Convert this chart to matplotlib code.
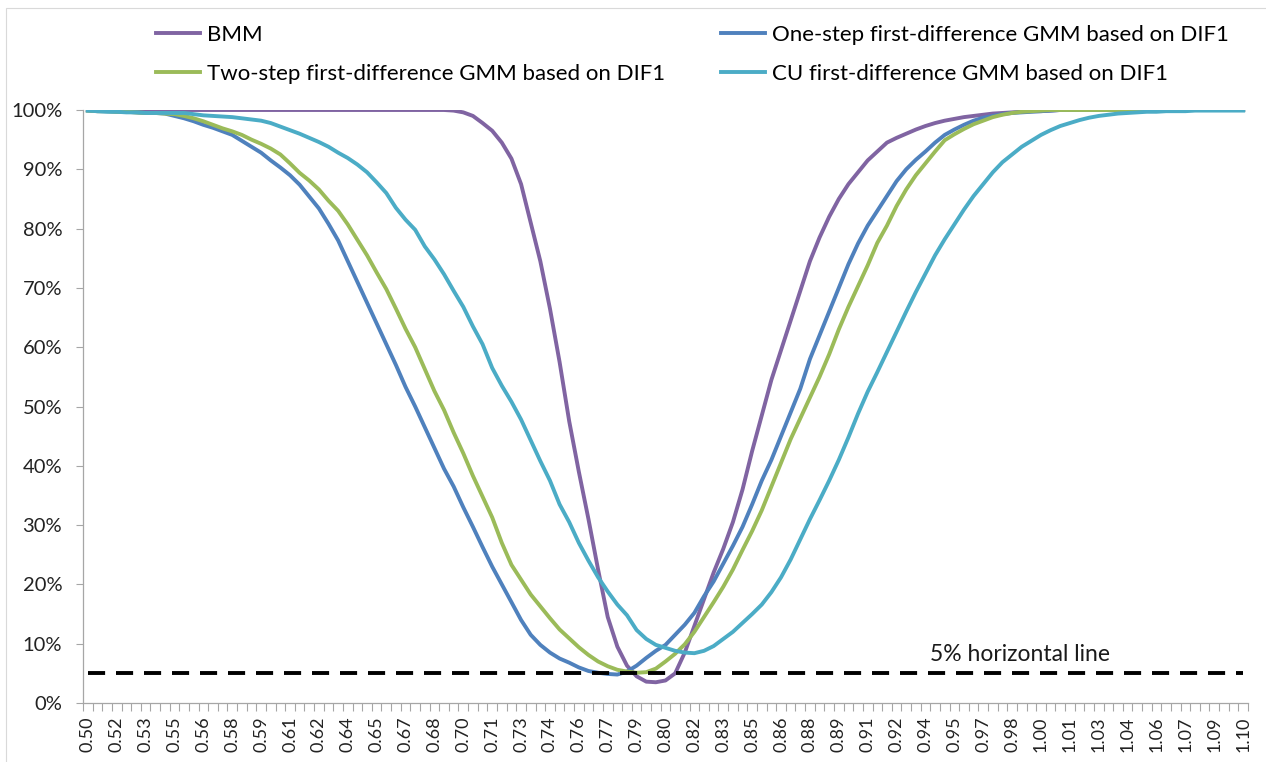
import matplotlib.pyplot as plt
from matplotlib.patches import Rectangle
from matplotlib.ticker import FixedLocator, PercentFormatter
import numpy as np

# rejection frequencies (%) at rho = 0.500, 0.505, ..., 1.100
rho = [round(0.5 + 0.005 * k, 3) for k in range(121)]

tick_labels = ["0.50", "0.52", "0.53", "0.55", "0.56", "0.58", "0.59", "0.61", "0.62",
               "0.64", "0.65", "0.67", "0.68", "0.70", "0.71", "0.73", "0.74", "0.76",
               "0.77", "0.79", "0.80", "0.82", "0.83", "0.85", "0.86", "0.88", "0.89",
               "0.91", "0.92", "0.94", "0.95", "0.97", "0.98", "1.00", "1.01", "1.03",
               "1.04", "1.06", "1.07", "1.09", "1.10"]

bmm = [100.0] * 38 + [
    99.9, 99.6, 99.0, 97.8, 96.5, 94.5, 91.8, 87.5, 81.0, 74.5,
    66.5, 57.5, 47.5, 39.0, 31.0, 22.5, 14.5, 9.5, 6.3, 4.5,
    3.6, 3.5, 3.8, 5.0, 8.5, 13.0, 17.5, 22.0, 26.0, 30.5,
    36.0, 42.5, 48.5, 54.5, 59.5, 64.5, 69.5, 74.5, 78.5, 82.0,
    85.0, 87.5, 89.5, 91.5, 93.0, 94.5, 95.3, 96.0, 96.7, 97.3,
    97.8, 98.2, 98.5, 98.8, 99.0, 99.2, 99.4, 99.5, 99.6, 99.7,
    99.8, 99.8, 99.9] + [100.0] * 20

one_step = [
    99.9, 99.8, 99.8, 99.7, 99.7, 99.6, 99.5, 99.5, 99.4, 99.0,
    98.6, 98.1, 97.5, 97.0, 96.4, 95.8, 94.8, 93.8, 92.8, 91.5,
    90.3, 89.0, 87.4, 85.4, 83.4, 80.8, 78.0, 74.5, 71.0, 67.5,
    64.0, 60.5, 57.0, 53.3, 50.0, 46.5, 43.0, 39.5, 36.5, 33.0,
    29.7, 26.3, 23.0, 20.0, 17.0, 14.0, 11.5, 9.8, 8.5, 7.5,
    6.8, 6.0, 5.4, 5.1, 4.9, 4.8, 5.3, 6.3, 7.6, 8.8,
    9.8, 11.5, 13.2, 15.2, 18.0, 20.5, 23.5, 26.5, 29.7, 33.5,
    37.5, 41.0, 45.0, 49.0, 53.0, 58.0, 62.0, 66.0, 70.0, 74.0,
    77.5, 80.5, 83.0, 85.5, 88.0, 90.0, 91.6, 93.0, 94.5, 95.8,
    96.7, 97.5, 98.2, 98.7, 99.0, 99.3, 99.5, 99.6, 99.7, 99.8,
    99.9] + [100.0] * 20

two_step = [
    99.9, 99.8, 99.8, 99.7, 99.7, 99.6, 99.5, 99.5, 99.4, 99.3,
    99.0, 98.6, 98.1, 97.5, 96.9, 96.4, 95.8, 95.0, 94.3, 93.5,
    92.5, 91.0, 89.4, 88.1, 86.6, 84.7, 83.0, 80.7, 78.1, 75.5,
    72.6, 69.8, 66.5, 63.1, 60.0, 56.3, 52.6, 49.4, 45.6, 42.1,
    38.3, 34.8, 31.3, 27.0, 23.3, 20.8, 18.3, 16.3, 14.3, 12.4,
    10.9, 9.4, 8.1, 7.0, 6.2, 5.6, 5.3, 5.1, 5.2, 5.8,
    7.0, 8.3, 9.9, 12.0, 14.5, 17.0, 19.6, 22.5, 25.8, 29.0,
    32.5, 36.5, 40.5, 44.5, 48.0, 51.5, 55.0, 58.8, 63.0, 66.8,
    70.3, 73.8, 77.6, 80.5, 83.8, 86.6, 89.0, 91.0, 93.0, 94.9,
    95.9, 96.8, 97.6, 98.2, 98.8, 99.2, 99.5, 99.7, 99.8, 99.9] + [100.0] * 21

cu = [
    99.9, 99.8, 99.7, 99.7, 99.6, 99.6, 99.5, 99.5, 99.5, 99.5,
    99.5, 99.3, 99.1, 99.0, 98.9, 98.8, 98.6, 98.4, 98.2, 97.8,
    97.2, 96.6, 96.0, 95.3, 94.6, 93.8, 92.8, 91.9, 90.8, 89.5,
    87.8, 86.0, 83.5, 81.5, 79.8, 77.0, 74.8, 72.3, 69.5, 66.8,
    63.5, 60.5, 56.5, 53.5, 50.8, 47.8, 44.3, 40.8, 37.5, 33.5,
    30.5, 27.0, 24.0, 21.2, 18.8, 16.6, 14.8, 12.3, 10.8, 9.8,
    9.3, 8.8, 8.5, 8.4, 8.8, 9.6, 10.8, 12.0, 13.5, 15.0,
    16.6, 18.7, 21.2, 24.2, 27.6, 31.0, 34.2, 37.5, 41.0, 44.8,
    48.8, 52.5, 55.8, 59.2, 62.6, 66.0, 69.3, 72.4, 75.5, 78.2,
    80.7, 83.2, 85.5, 87.5, 89.5, 91.2, 92.5, 93.8, 94.8, 95.8,
    96.6, 97.3, 97.8, 98.3, 98.7, 99.0, 99.2, 99.4, 99.5, 99.6,
    99.7, 99.7, 99.8, 99.8, 99.8, 99.9, 99.9, 99.9, 99.9, 99.9,
    99.9]

nominal = 5.0

series = [
    ("BMM", bmm, "#8064A2"),
    ("One-step first-difference GMM based on DIF1", one_step, "#4F81BD"),
    ("Two-step first-difference GMM based on DIF1", two_step, "#9BBB59"),
    ("CU first-difference GMM based on DIF1", cu, "#4BACC6"),
]

plt.rcParams["font.family"] = ["Lato", "DejaVu Sans"]

fig = plt.figure(figsize=(12.66, 7.62), dpi=100)
ax = fig.add_axes([83 / 1266, 59 / 762, 1165 / 1266, 593 / 762])

x = np.arange(len(rho))
lines = {}
for name, vals, col in series:
    lines[name], = ax.plot(x, vals, color=col, lw=2.8, solid_joinstyle="round")

ax.plot([x[0], x[-1]], [nominal, nominal], color="black", lw=2.8,
        linestyle=(0, (4.4, 2.8)))
ax.text(96.8, 8.1, "5% horizontal line", fontsize=16.5, ha="center",
        va="center", color="#1a1a1a")

ax.set_xlim(-0.5, len(rho) - 0.5)
ax.set_ylim(0, 100)
ax.yaxis.set_major_locator(FixedLocator(np.arange(0, 101, 10)))
ax.yaxis.set_major_formatter(PercentFormatter(decimals=0))

ax.set_xticks(x[::3], tick_labels, rotation=90)
ax.xaxis.set_minor_locator(FixedLocator(np.arange(-0.5, len(rho), 1.0)))
ax.tick_params(axis="x", which="major", length=0, pad=9.5, labelsize=13, colors="#222222")
ax.tick_params(axis="x", which="minor", length=6, width=0.8, color="#a6a6a6")
ax.tick_params(axis="y", length=5, width=0.8, color="#a6a6a6", labelsize=14.5,
               labelcolor="#222222", pad=10)

for side in ("top", "right"):
    ax.spines[side].set_visible(False)
for side in ("left", "bottom"):
    ax.spines[side].set_color("#a6a6a6")
    ax.spines[side].set_linewidth(0.9)

order = ["BMM", "Two-step first-difference GMM based on DIF1",
         "One-step first-difference GMM based on DIF1",
         "CU first-difference GMM based on DIF1"]
fig.legend([lines[n] for n in order], order, loc="upper left", ncol=2,
           bbox_to_anchor=(136 / 1266, 1 - 5 / 762), frameon=False, fontsize=16,
           handlelength=2.0, handletextpad=0.3, columnspacing=2.5,
           labelspacing=0.85)

fig.patches.append(Rectangle((6 / 1266, -0.1), 1.2, 1 - 8 / 762 + 0.1,
                             transform=fig.transFigure, fill=False,
                             edgecolor="#d9d9d9", lw=0.8))

fig.savefig("out.png", dpi=100)
